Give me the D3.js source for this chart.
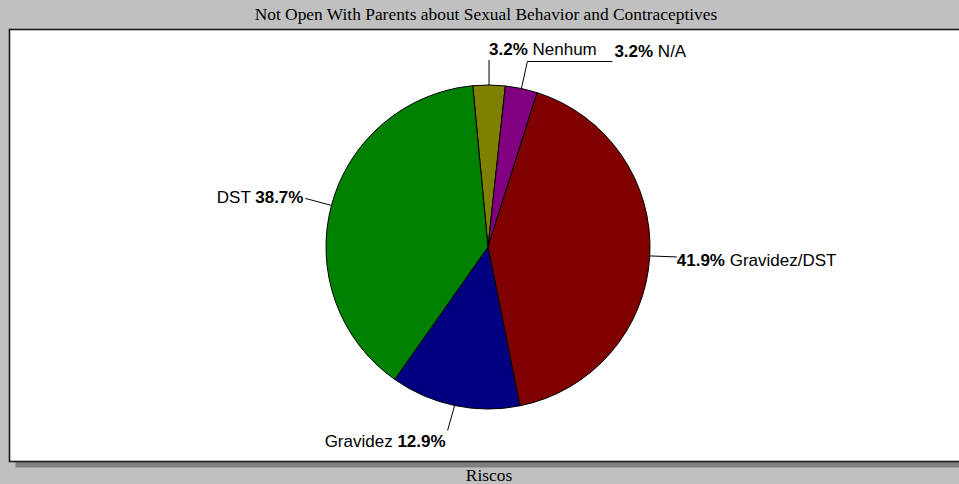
<!DOCTYPE html>
<html>
<head>
<meta charset="utf-8">
<script src="https://cdn.jsdelivr.net/npm/d3@7"></script>
<style>
  html, body { margin: 0; padding: 0; background: #c0c0c0; }
  svg { display: block; }
</style>
</head>
<body>
<svg id="chart" width="959" height="484"></svg>
<script>
// Risk categories, in drawing order (clockwise from just left of 12 o'clock)
const categories = ["Nenhum", "N/A", "Gravidez/DST", "Gravidez", "DST"];
const percents   = [3.2, 3.2, 41.9, 12.9, 38.7];
const colors     = ["#808000", "#800080", "#800000", "#000080", "#008000"];
const chartTitle = "Not Open With Parents about Sexual Behavior and Contraceptives";
const axisTitle  = "Riscos";

const W = 959, H = 484;
const svg = d3.select("#chart");

// Plot frame with drop shadow
const frame = { x: 9.5, y: 29.5, w: 980, h: 432 };
svg.append("rect")
  .attr("x", frame.x + 6).attr("y", frame.y + 6)
  .attr("width", frame.w).attr("height", frame.h)
  .attr("fill", "#808080");
svg.append("rect")
  .attr("x", frame.x).attr("y", frame.y)
  .attr("width", frame.w).attr("height", frame.h)
  .attr("fill", "#ffffff").attr("stroke", "#1a1a1a").attr("stroke-width", 1.6);

// Titles
svg.append("text")
  .attr("x", 486).attr("y", 20)
  .attr("text-anchor", "middle")
  .attr("font-family", "'Liberation Serif', 'Times New Roman', serif")
  .attr("font-size", 17.4).attr("fill", "#000")
  .text(chartTitle);
svg.append("text")
  .attr("x", 489).attr("y", 481)
  .attr("text-anchor", "middle")
  .attr("font-family", "'Liberation Serif', 'Times New Roman', serif")
  .attr("font-size", 17.4).attr("fill", "#000")
  .text(axisTitle);

// Pie
const cx = 488, cy = 247, R = 162;
const startDeg = -5.4;
const pie = d3.pie().sort(null).value(d => d.value)
  .startAngle(startDeg * Math.PI / 180)
  .endAngle(startDeg * Math.PI / 180 + 2 * Math.PI);
const arc = d3.arc().innerRadius(0).outerRadius(R);

const data = categories.map((c, i) => ({ name: c, value: percents[i], color: colors[i] }));
const arcs = pie(data);

const g = svg.append("g").attr("transform", `translate(${cx},${cy})`);
g.selectAll("path.slice")
  .data(arcs)
  .join("path")
  .attr("class", "slice")
  .attr("d", arc)
  .attr("fill", d => d.data.color)
  .attr("stroke", "#000")
  .attr("stroke-width", 1)
  .attr("stroke-linejoin", "round");

// Label layout: leader path offsets from the slice's rim point, and text placement
const labelLayout = {
  "Nenhum":       { pts: [[0, -25]],          text: [0, -30],  anchor: "start", pctFirst: true },
  "N/A":          { pts: [[6, -27], [91, -27]], text: [93, -31], anchor: "start", pctFirst: true },
  "Gravidez/DST": { pts: [[27, 1]],           text: [27, 10],  anchor: "start", pctFirst: true },
  "Gravidez":     { pts: [[-7, 25]],          text: [-9, 41],  anchor: "end",   pctFirst: false },
  "DST":          { pts: [[-26, -7]],         text: [-28, -2], anchor: "end",   pctFirst: false }
};

const labels = svg.append("g");
arcs.forEach(a => {
  const mid = (a.startAngle + a.endAngle) / 2;
  const ax = cx + R * Math.sin(mid);
  const ay = cy - R * Math.cos(mid);
  const L = labelLayout[a.data.name];
  const line = [[ax, ay]].concat(L.pts.map(p => [ax + p[0], ay + p[1]]));
  labels.append("path")
    .attr("d", d3.line()(line))
    .attr("fill", "none")
    .attr("stroke", "#000")
    .attr("stroke-width", 1);

  const t = labels.append("text")
    .attr("x", ax + L.text[0]).attr("y", ay + L.text[1])
    .attr("text-anchor", L.anchor)
    .attr("font-family", "'Liberation Sans', Arial, sans-serif")
    .attr("font-size", 17).attr("fill", "#000");
  const pct = a.data.value.toFixed(1) + "%";
  if (L.pctFirst) {
    t.append("tspan").attr("font-weight", "bold").text(pct);
    t.append("tspan").text(" " + a.data.name);
  } else {
    t.append("tspan").text(a.data.name + " ");
    t.append("tspan").attr("font-weight", "bold").text(pct);
  }
});
</script>
</body>
</html>
